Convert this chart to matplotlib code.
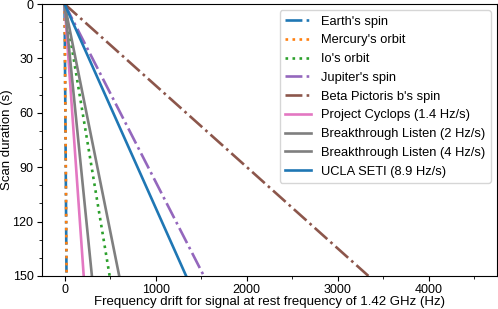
import matplotlib.pyplot as plt
from matplotlib.ticker import MultipleLocator

plt.rcParams['font.family'] = ['Liberation Sans', 'DejaVu Sans']
plt.rcParams['font.size'] = 9.5

# drift rates in Hz/s (at 1.42 GHz)
labels = ["Earth's spin", "Mercury's orbit", "Io's orbit", "Jupiter's spin",
          "Beta Pictoris b's spin", "Project Cyclops (1.4 Hz/s)",
          "Breakthrough Listen (2 Hz/s)", "Breakthrough Listen (4 Hz/s)",
          "UCLA SETI (8.9 Hz/s)"]
rates = [0.14, 0.15, 3.3, 10.2, 22.25, 1.4, 2.0, 4.0, 8.9]
colors = ['tab:blue', 'tab:orange', 'tab:green', 'tab:purple', 'tab:brown',
          'tab:pink', 'tab:gray', 'tab:gray', 'tab:blue']
styles = ['-.', ':', ':', '-.', '-.', '-', '-', '-', '-']
durations = [0, 150]

fig = plt.figure(figsize=(4.98, 3.09), dpi=100)
ax = fig.add_subplot(111)
fig.subplots_adjust(left=0.084, right=0.998, top=0.987, bottom=0.107)

for lab, r, c, s in zip(labels, rates, colors, styles):
    ax.plot([r * t for t in durations], durations, color=c, linestyle=s,
            linewidth=1.9, label=lab)

ax.set_xlim(-250, 4750)
ax.set_ylim(150, 0)
ax.set_yticks([0, 30, 60, 90, 120, 150])
ax.yaxis.set_minor_locator(MultipleLocator(10))
ax.xaxis.set_minor_locator(MultipleLocator(500))
ax.set_xticks([0, 1000, 2000, 3000, 4000])
ax.tick_params(labelsize=9, pad=2.5)
ax.set_xlabel('Frequency drift for signal at rest frequency of 1.42 GHz (Hz)')
ax.set_ylabel('Scan duration (s)')
ax.xaxis.set_label_coords(0.5, -0.075)
ax.yaxis.set_label_coords(-0.064, 0.5)
ax.legend(loc='upper right', fontsize=9.3, labelspacing=0.52)

fig.savefig('out.png', dpi=100)
